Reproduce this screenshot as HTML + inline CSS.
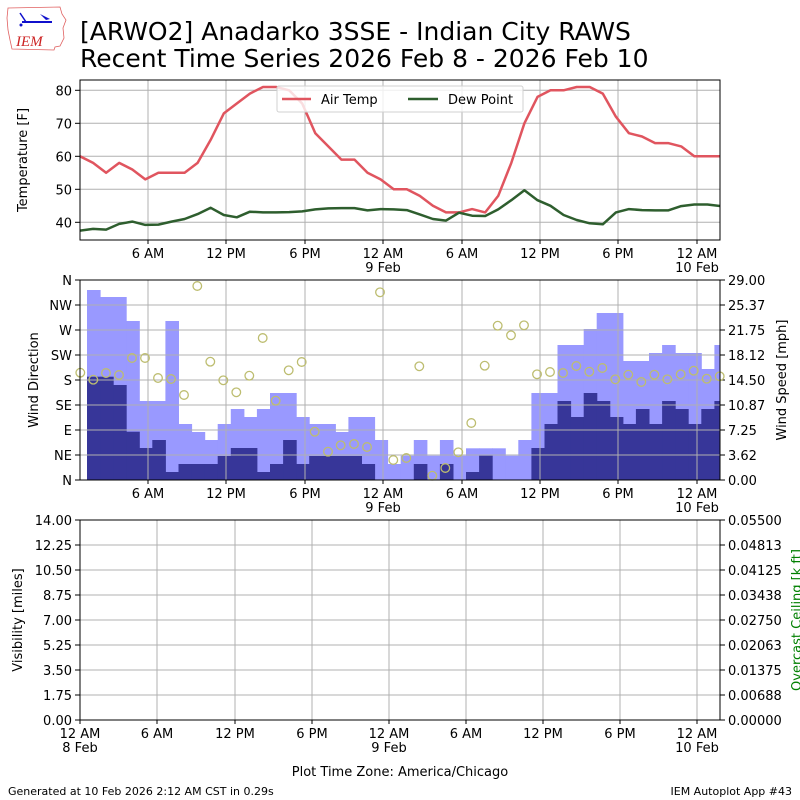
<!DOCTYPE html>
<html><head><meta charset="utf-8"><style>
html,body{margin:0;padding:0;background:#fff;}
svg{display:block;font-family:"DejaVu Sans","Liberation Sans",sans-serif;}
</style></head><body>
<svg id="s" width="800" height="800" viewBox="0 0 800 800" xmlns="http://www.w3.org/2000/svg">
<rect width="800" height="800" fill="#fff"/>
<g>
<path d="M8,8 L60,7 L62,14 L66,20 L63,28 L64,38 L60,46 L55,47 L54,50 L12,49 L10,40 L8,30 L7,18 Z" fill="#fff" stroke="#e06060" stroke-width="0.8"/>
<line x1="22" y1="22" x2="52" y2="22" stroke="#1010cc" stroke-width="2"/>
<line x1="20" y1="13" x2="26" y2="22" stroke="#1010cc" stroke-width="1.5"/>
<path d="M40,14 L50,19 L46,20 Z" fill="#1010cc"/>
<circle cx="21" cy="25" r="1.5" fill="#1010cc"/>
<text x="16" y="46" font-family="Liberation Serif,serif" font-style="italic" font-size="15" fill="#cc2222">IEM</text>
</g>
<text x="80" y="40" font-size="25" fill="#000">[ARWO2] Anadarko 3SSE - Indian City RAWS</text>
<text x="80" y="67" font-size="25" fill="#000">Recent Time Series 2026 Feb 8 - 2026 Feb 10</text>
<g id="g"></g>
<text x="8" y="795" font-size="11">Generated at 10 Feb 2026 2:12 AM CST in 0.29s</text>
<text x="792" y="795" font-size="11" text-anchor="end">IEM Autoplot App #43</text>
</svg>
<script>
var o='';
function L(x1,y1,x2,y2,c,w){o+='<line x1="'+x1+'" y1="'+y1+'" x2="'+x2+'" y2="'+y2+'" stroke="'+c+'" stroke-width="'+(w||1)+'"/>';}
function T(x,y,t,a,ex){o+='<text x="'+x+'" y="'+y+'" font-size="13" text-anchor="'+(a||'middle')+'" '+(ex||'')+'>'+t+'</text>';}
var G='#b0b0b0';
var tx=[148,226,305,383,462,540,618,697];
var tl=['6 AM','12 PM','6 PM','12 AM','6 AM','12 PM','6 PM','12 AM'];
var T0=80,T1=240;
function ty(v){return 90.3+(80-v)*3.3;}
tx.forEach(function(x){L(x,T0,x,T1,G,1);});
[80,70,60,50,40].forEach(function(v){var y=ty(v);L(80,y,720,y,G,1);L(75,y,80,y,'#000',1);T(72,y+5,v,'end');});
var at=[60,58,55,58,56,53,55,55,55,58,65,73,76,79,81,81,80,76,67,63,59,59,55,53,50,50,48,45,43,43,44,43,48,58,70,78,80,80,81,81,79,72,67,66,64,64,63,60,60,60];
var dp=[37.5,38,37.8,39.5,40.2,39.2,39.3,40.2,41,42.5,44.4,42.2,41.5,43.2,43,43,43.1,43.3,43.9,44.2,44.3,44.3,43.6,44,43.9,43.7,42.4,41,40.5,42.9,42,41.9,43.9,46.7,49.7,46.7,45,42.2,40.7,39.7,39.4,43,44,43.7,43.6,43.6,44.9,45.4,45.4,44.9];
function pl(a,c){var p=a.map(function(v,i){return (80+i*13.07).toFixed(1)+','+ty(v).toFixed(1);}).join(' ');o+='<polyline points="'+p+'" fill="none" stroke="'+c+'" stroke-width="2.5" stroke-linejoin="round"/>';}
o+='<clipPath id="c1"><rect x="80" y="80" width="640" height="160"/></clipPath><g clip-path="url(#c1)">';
pl(at,'#e0555f');pl(dp,'#2e5e2e');o+='</g>';
o+='<rect x="80" y="80" width="640" height="160" fill="none" stroke="#000" stroke-width="1"/>';
tx.forEach(function(x,i){L(x,T1,x,T1+4,'#000');T(x,T1+18,tl[i]);});
T(383,T1+32,'9 Feb');T(697,T1+32,'10 Feb');
o+='<text x="27" y="160" font-size="13" text-anchor="middle" transform="rotate(-90 27 160)">Temperature [F]</text>';
o+='<rect x="277" y="86" width="246" height="26" rx="2" fill="#fff" fill-opacity="0.8" stroke="#d0d0d0"/>';
L(282,99,311,99,'#e0555f',2.5);T(321,104,'Air Temp','start');
L(408,99,438,99,'#2e5e2e',2.5);T(448,104,'Dew Point','start');
var M0=280,M1=480;
var lt=[45,66,66,138,378,378,138,447,471,495,447,402,426,402,354,354,426,447,447,471,426,426,495,567,542,495,542,495,542,520,520,520,542,495,354,354,210,210,162,114,114,258,258,234,210,234,234,282,210];
var dk=[305,305,330,470,519,495,591,567,567,567,543,519,519,591,567,495,567,543,543,543,543,567,615,615,615,567,615,567,615,591,542,615,615,615,519,447,378,426,354,378,426,447,402,447,378,402,447,402,378];
o+='<clipPath id="c2"><rect x="80" y="280" width="640" height="200"/></clipPath><g clip-path="url(#c2)">';
lt.forEach(function(v,i){var x=87+i*13.07,y=275+v/3;o+='<rect x="'+x.toFixed(1)+'" y="'+y.toFixed(1)+'" width="13.6" height="'+(480-y).toFixed(1)+'" fill="#9999ff"/>';});
dk.forEach(function(v,i){var x=87+i*13.07,y=275+v/3;if(y<480)o+='<rect x="'+x.toFixed(1)+'" y="'+y.toFixed(1)+'" width="13.6" height="'+(480-y).toFixed(1)+'" fill="#373699"/>';});
o+='</g>';
tx.forEach(function(x){L(x,M0,x,M1,G,1);});
var dl=['N','NW','W','SW','S','SE','E','NE','N'];
var sl=['29.00','25.37','21.75','18.12','14.50','10.87','7.25','3.62','0.00'];
for(var k=0;k<9;k++){var y=280+k*25;if(k>0&&k<8)L(80,y,720,y,G,1);L(75,y,80,y,'#000');L(720,y,725,y,'#000');T(72,y+5,dl[k],'end');T(728,y+5,sl[k],'start');}
var c3=[[241,293],[280,314],[318,294],[357,300],[396,249],[435,249],[474,309],[513,312],[552,360],[592,33],[631,260],[670,316],[709,352],[748,302],[788,189],[827,377],[866,286],[905,261],[944,470],[984,530],[1022,511],[1062,507],[1101,516],[1140,52],[1180,555]];
var c4=[[19,549],[58,274],[97,602],[136,579],[175,532],[214,444],[254,272],[293,152],[333,181],[372,151],[411,298],[450,291],[489,294],[529,273],[568,290],[607,279],[646,313],[685,299],[724,321],[763,299],[802,313],[842,298],[881,287],[920,311],[959,304]];
c3.forEach(function(p){o+='<circle cx="'+(p[0]/3).toFixed(1)+'" cy="'+(275+p[1]/3).toFixed(1)+'" r="4.3" fill="none" stroke="#bdbd70" stroke-width="1.3"/>';});
c4.forEach(function(p){o+='<circle cx="'+(400+p[0]/3).toFixed(1)+'" cy="'+(275+p[1]/3).toFixed(1)+'" r="4.3" fill="none" stroke="#bdbd70" stroke-width="1.3"/>';});
o+='<rect x="80" y="280" width="640" height="200" fill="none" stroke="#000" stroke-width="1"/>';
tx.forEach(function(x,i){L(x,M1,x,M1+4,'#000');T(x,M1+18,tl[i]);});
T(383,M1+32,'9 Feb');T(697,M1+32,'10 Feb');
o+='<text x="38" y="380" font-size="13" text-anchor="middle" transform="rotate(-90 38 380)">Wind Direction</text>';
o+='<text x="786" y="380" font-size="13" text-anchor="middle" transform="rotate(-90 786 380)">Wind Speed [mph]</text>';
var bx=[80,157,235,312,389,466,543,620,697];
var bl=['12 AM','6 AM','12 PM','6 PM','12 AM','6 AM','12 PM','6 PM','12 AM'];
bx.forEach(function(x){L(x,520,x,720,G,1);});
var vl=['14.00','12.25','10.50','8.75','7.00','5.25','3.50','1.75','0.00'];
var cl=['0.05500','0.04813','0.04125','0.03438','0.02750','0.02063','0.01375','0.00688','0.00000'];
for(var k=0;k<9;k++){var y=520+k*25;if(k>0&&k<8)L(80,y,720,y,G,1);L(75,y,80,y,'#000');L(720,y,725,y,'#000');T(72,y+5,vl[k],'end');T(728,y+5,cl[k],'start');}
o+='<rect x="80" y="520" width="640" height="200" fill="none" stroke="#000" stroke-width="1"/>';
bx.forEach(function(x,i){L(x,720,x,724,'#000');T(x,738,bl[i]);});
T(80,752,'8 Feb');T(389,752,'9 Feb');T(697,752,'10 Feb');
T(400,776,'Plot Time Zone: America/Chicago');
o+='<text x="22" y="620" font-size="13" text-anchor="middle" transform="rotate(-90 22 620)">Visibility [miles]</text>';
o+='<text x="801" y="620" font-size="13" fill="#008000" text-anchor="middle" transform="rotate(-90 801 620)">Overcast Ceiling [k ft]</text>';
document.getElementById('g').innerHTML=o;
</script>
</body></html>
